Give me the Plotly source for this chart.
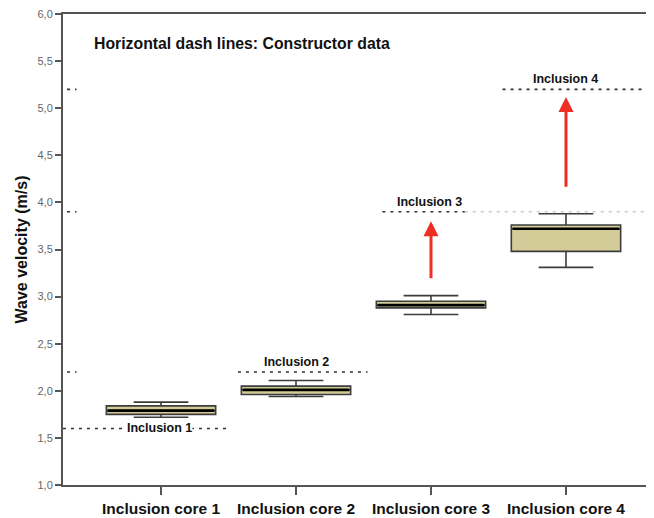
import plotly.graph_objects as go

# categories and box statistics (m/s)
cores = ["Inclusion core 1", "Inclusion core 2", "Inclusion core 3", "Inclusion core 4"]
lower_whisker = [1.72, 1.94, 2.81, 3.31]
q1 = [1.75, 1.96, 2.88, 3.48]
median = [1.79, 2.01, 2.91, 3.72]
q3 = [1.84, 2.05, 2.95, 3.76]
upper_whisker = [1.88, 2.11, 3.01, 3.88]

# constructor (nominal) velocities, drawn as horizontal dash lines
inclusions = ["Inclusion 1", "Inclusion 2", "Inclusion 3", "Inclusion 4"]
constructor = [1.6, 2.2, 3.9, 5.2]

# red arrows: from measured level up towards constructor value
arrow_core = [2, 3]
arrow_from = [3.18, 4.15]
arrow_to = [3.80, 5.12]

pos = list(range(len(cores)))
box_w = 0.81
x_lo, x_hi = -0.726, 3.652

fig = go.Figure()

fig.add_trace(go.Box(
    x=pos, q1=q1, median=median, q3=q3,
    lowerfence=lower_whisker, upperfence=upper_whisker,
    width=box_w, whiskerwidth=0.5,
    fillcolor="#d3cc98",
    line=dict(color="#3c3c3c", width=1.6),
    boxpoints=False, hoverinfo="skip", showlegend=False,
))

# thicker black median bars
mx, my = [], []
for p, m in zip(pos, median):
    mx += [p - box_w / 2 + 0.01, p + box_w / 2 - 0.01, None]
    my += [m, m, None]
fig.add_trace(go.Scatter(x=mx, y=my, mode="lines",
                         line=dict(color="black", width=2.6),
                         hoverinfo="skip", showlegend=False))

# dash line extents (offsets from each core, in category units)
seg_start = [None, -0.43, -0.36, -0.47]
seg_end = [0.50, 0.53, 0.25, None]
dash_style = dict(color="#333333", width=1.6, dash="3px,5px")
faint_style = dict(color="#c8c8c8", width=1.4, dash="3px,5px")
for p, v, a, b in zip(pos, constructor, seg_start, seg_end):
    x0 = x_lo if a is None else p + a
    x1 = x_hi if b is None else p + b
    fig.add_shape(type="line", x0=x0, x1=x1, y0=v, y1=v, xref="x", yref="y",
                  line=dash_style, layer="above")
    if a is not None:
        # faint remnants next to the axis
        fig.add_shape(type="line", x0=x_lo + 0.03, x1=x_lo + 0.1, y0=v, y1=v,
                      xref="x", yref="y", line=dash_style)
    if a is not None and b is not None and p == 2:
        # the 3.9 line fades out across core 4
        fig.add_shape(type="line", x0=x1, x1=x_hi, y0=v, y1=v, xref="x", yref="y",
                      line=faint_style, layer="below")

# labels of the constructor lines
label_dx = [-0.01, 0.0, -0.01, 0.0]
label_shift = [0, 10, 10, 10]
for p, name, v, dx, s in zip(pos, inclusions, constructor, label_dx, label_shift):
    fig.add_annotation(x=p + dx, y=v, text="<b>" + name + "</b>", showarrow=False,
                       yshift=s, bgcolor="white" if s == 0 else "rgba(0,0,0,0)",
                       borderpad=0,
                       font=dict(family="Liberation Sans, Arial", size=12.5, color="#111111"))

for c, y0, y1 in zip(arrow_core, arrow_from, arrow_to):
    fig.add_annotation(x=c, y=y1, ax=c, ay=y0, xref="x", yref="y",
                       axref="x", ayref="y", text="", showarrow=True,
                       arrowhead=2, arrowsize=1.0, arrowwidth=3,
                       arrowcolor="#ee2e24")

fig.add_annotation(x=0.049, y=0.938, xref="paper", yref="paper",
                   xanchor="left", yanchor="middle", showarrow=False,
                   text="<b>Horizontal dash lines: Constructor data</b>",
                   font=dict(family="Liberation Sans, Arial", size=15.8, color="#111111"))

# the page body has an 8px margin, so the margins are shifted by that
fig.update_layout(
    width=654, height=518,
    margin=dict(l=55, r=8, t=6, b=41),
    plot_bgcolor="white", paper_bgcolor="white",
    separators=",.",
    font=dict(family="Liberation Sans, Arial", color="#111111"),
)
fig.update_xaxes(
    range=[x_lo, x_hi], tickvals=pos, automargin=False,
    ticktext=["<b>" + c + "</b>" for c in cores],
    tickfont=dict(size=15.5, color="#111111"),
    ticks="outside", ticklen=8, tickwidth=1.5, tickcolor="#555555",
    showline=True, linecolor="#555555", linewidth=2, mirror=True,
    showgrid=False, zeroline=False,
)
fig.update_yaxes(
    range=[1.0, 6.0], dtick=0.5, tickformat=".1f", automargin=False,
    ticklabeloverflow="allow",
    tickfont=dict(size=11, color="#666666"),
    ticks="outside", ticklen=6, tickwidth=1.5, tickcolor="#555555",
    showline=True, linecolor="#555555", linewidth=2,
    showgrid=False, zeroline=False,
    title=dict(text="<b>Wave velocity (m/s)</b>", standoff=6,
               font=dict(size=16, color="#111111")),
)

fig.write_html("out.html")
